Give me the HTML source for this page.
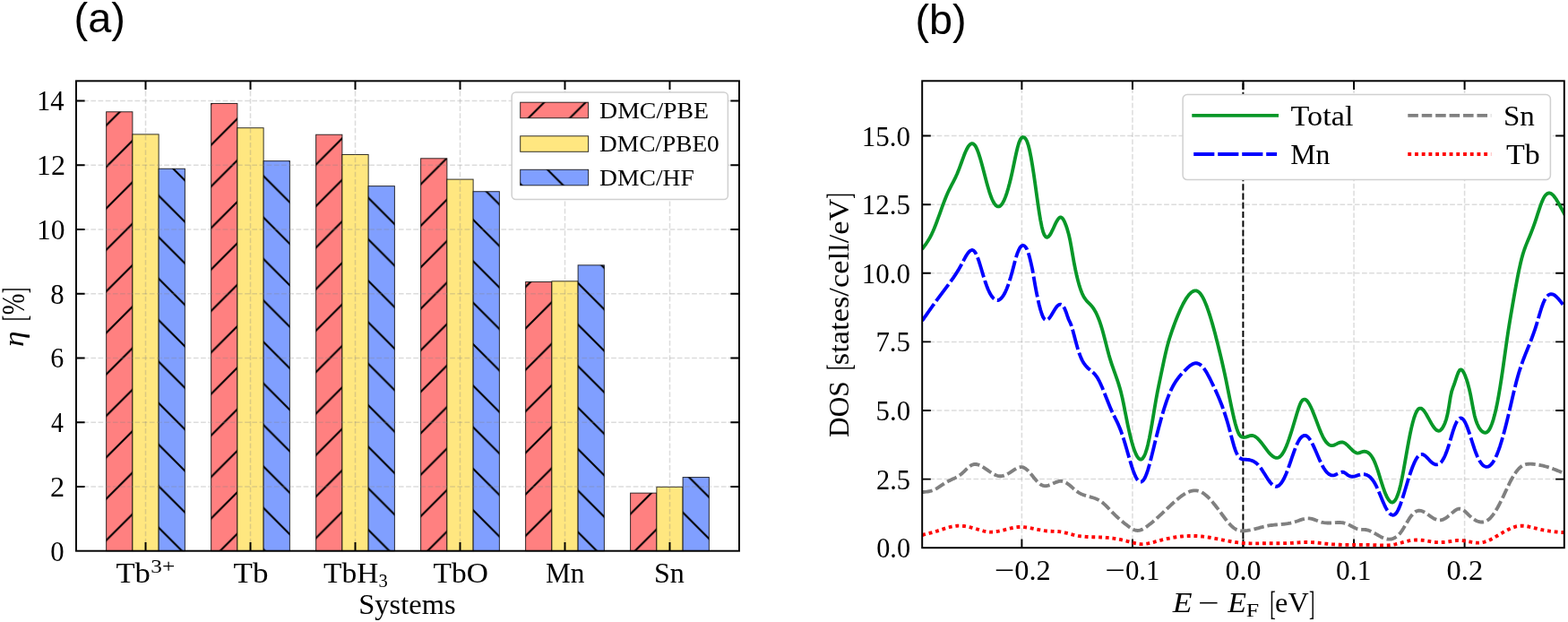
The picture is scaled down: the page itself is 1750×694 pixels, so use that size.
<!DOCTYPE html>
<html lang="en"><head><meta charset="utf-8"><title>Figure</title>
<style>html,body{margin:0;padding:0;background:#fff}svg{display:block}</style></head>
<body>
<svg width="1750" height="694" viewBox="0 0 1750 694">
<rect width="1750" height="694" fill="#ffffff"/>
<defs>
<pattern id="h1" patternUnits="userSpaceOnUse" x="0" y="27" width="46.3" height="46.3">
<path d="M-5 5L5 -5M-5 51.3 L51.3 -5M41.3 51.3 L51.3 41.3" stroke="#000" stroke-width="2.1" fill="none"/>
</pattern>
<pattern id="h2" patternUnits="userSpaceOnUse" x="0" y="41.2" width="46.3" height="46.3">
<path d="M-5 -5L51.3 51.3 M41.3 -5 L51.3 5 M-5 41.3 L5 51.3" stroke="#000" stroke-width="2.1" fill="none"/>
</pattern>
<clipPath id="clipR"><rect x="1029.2" y="90.3" width="716.6" height="520.9"/></clipPath>
</defs>
<g id="panel-a">
<rect x="118.64" y="124.78" width="29.25" height="489.92" fill="#ff8080"/>
<rect x="118.64" y="124.78" width="29.25" height="489.92" fill="url(#h1)"/>
<rect x="118.64" y="124.78" width="29.25" height="489.92" fill="none" stroke="#000" stroke-opacity="0.8" stroke-width="1"/>
<rect x="147.89" y="149.89" width="29.25" height="464.81" fill="#ffe780"/>
<rect x="147.89" y="149.89" width="29.25" height="464.81" fill="none" stroke="#000" stroke-opacity="0.8" stroke-width="1"/>
<rect x="177.13" y="188.26" width="29.25" height="426.44" fill="#809fff"/>
<rect x="177.13" y="188.26" width="29.25" height="426.44" fill="url(#h2)"/>
<rect x="177.13" y="188.26" width="29.25" height="426.44" fill="none" stroke="#000" stroke-opacity="0.8" stroke-width="1"/>
<rect x="235.63" y="115.46" width="29.25" height="499.24" fill="#ff8080"/>
<rect x="235.63" y="115.46" width="29.25" height="499.24" fill="url(#h1)"/>
<rect x="235.63" y="115.46" width="29.25" height="499.24" fill="none" stroke="#000" stroke-opacity="0.8" stroke-width="1"/>
<rect x="264.88" y="142.71" width="29.25" height="471.99" fill="#ffe780"/>
<rect x="264.88" y="142.71" width="29.25" height="471.99" fill="none" stroke="#000" stroke-opacity="0.8" stroke-width="1"/>
<rect x="294.13" y="179.65" width="29.25" height="435.05" fill="#809fff"/>
<rect x="294.13" y="179.65" width="29.25" height="435.05" fill="url(#h2)"/>
<rect x="294.13" y="179.65" width="29.25" height="435.05" fill="none" stroke="#000" stroke-opacity="0.8" stroke-width="1"/>
<rect x="352.63" y="150.24" width="29.25" height="464.46" fill="#ff8080"/>
<rect x="352.63" y="150.24" width="29.25" height="464.46" fill="url(#h1)"/>
<rect x="352.63" y="150.24" width="29.25" height="464.46" fill="none" stroke="#000" stroke-opacity="0.8" stroke-width="1"/>
<rect x="381.88" y="172.48" width="29.25" height="442.22" fill="#ffe780"/>
<rect x="381.88" y="172.48" width="29.25" height="442.22" fill="none" stroke="#000" stroke-opacity="0.8" stroke-width="1"/>
<rect x="411.13" y="207.63" width="29.25" height="407.07" fill="#809fff"/>
<rect x="411.13" y="207.63" width="29.25" height="407.07" fill="url(#h2)"/>
<rect x="411.13" y="207.63" width="29.25" height="407.07" fill="none" stroke="#000" stroke-opacity="0.8" stroke-width="1"/>
<rect x="469.62" y="176.79" width="29.25" height="437.91" fill="#ff8080"/>
<rect x="469.62" y="176.79" width="29.25" height="437.91" fill="url(#h1)"/>
<rect x="469.62" y="176.79" width="29.25" height="437.91" fill="none" stroke="#000" stroke-opacity="0.8" stroke-width="1"/>
<rect x="498.87" y="200.1" width="29.25" height="414.6" fill="#ffe780"/>
<rect x="498.87" y="200.1" width="29.25" height="414.6" fill="none" stroke="#000" stroke-opacity="0.8" stroke-width="1"/>
<rect x="528.12" y="213.73" width="29.25" height="400.97" fill="#809fff"/>
<rect x="528.12" y="213.73" width="29.25" height="400.97" fill="url(#h2)"/>
<rect x="528.12" y="213.73" width="29.25" height="400.97" fill="none" stroke="#000" stroke-opacity="0.8" stroke-width="1"/>
<rect x="586.62" y="314.51" width="29.25" height="300.19" fill="#ff8080"/>
<rect x="586.62" y="314.51" width="29.25" height="300.19" fill="url(#h1)"/>
<rect x="586.62" y="314.51" width="29.25" height="300.19" fill="none" stroke="#000" stroke-opacity="0.8" stroke-width="1"/>
<rect x="615.87" y="313.79" width="29.25" height="300.91" fill="#ffe780"/>
<rect x="615.87" y="313.79" width="29.25" height="300.91" fill="none" stroke="#000" stroke-opacity="0.8" stroke-width="1"/>
<rect x="645.12" y="295.86" width="29.25" height="318.84" fill="#809fff"/>
<rect x="645.12" y="295.86" width="29.25" height="318.84" fill="url(#h2)"/>
<rect x="645.12" y="295.86" width="29.25" height="318.84" fill="none" stroke="#000" stroke-opacity="0.8" stroke-width="1"/>
<rect x="703.62" y="550.14" width="29.25" height="64.56" fill="#ff8080"/>
<rect x="703.62" y="550.14" width="29.25" height="64.56" fill="url(#h1)"/>
<rect x="703.62" y="550.14" width="29.25" height="64.56" fill="none" stroke="#000" stroke-opacity="0.8" stroke-width="1"/>
<rect x="732.87" y="543.33" width="29.25" height="71.37" fill="#ffe780"/>
<rect x="732.87" y="543.33" width="29.25" height="71.37" fill="none" stroke="#000" stroke-opacity="0.8" stroke-width="1"/>
<rect x="762.11" y="532.57" width="29.25" height="82.13" fill="#809fff"/>
<rect x="762.11" y="532.57" width="29.25" height="82.13" fill="url(#h2)"/>
<rect x="762.11" y="532.57" width="29.25" height="82.13" fill="none" stroke="#000" stroke-opacity="0.8" stroke-width="1"/>
<path d="M162.51 614.7 V90.35" stroke="#808080" stroke-opacity="0.28" stroke-width="1.5" stroke-dasharray="5.71 2.47" fill="none"/>
<path d="M279.51 614.7 V90.35" stroke="#808080" stroke-opacity="0.28" stroke-width="1.5" stroke-dasharray="5.71 2.47" fill="none"/>
<path d="M396.5 614.7 V90.35" stroke="#808080" stroke-opacity="0.28" stroke-width="1.5" stroke-dasharray="5.71 2.47" fill="none"/>
<path d="M513.5 614.7 V90.35" stroke="#808080" stroke-opacity="0.28" stroke-width="1.5" stroke-dasharray="5.71 2.47" fill="none"/>
<path d="M630.49 614.7 V90.35" stroke="#808080" stroke-opacity="0.28" stroke-width="1.5" stroke-dasharray="5.71 2.47" fill="none"/>
<path d="M747.49 614.7 V90.35" stroke="#808080" stroke-opacity="0.28" stroke-width="1.5" stroke-dasharray="5.71 2.47" fill="none"/>
<path d="M85 542.97 H825" stroke="#808080" stroke-opacity="0.28" stroke-width="1.5" stroke-dasharray="5.71 2.47" fill="none"/>
<path d="M85 471.24 H825" stroke="#808080" stroke-opacity="0.28" stroke-width="1.5" stroke-dasharray="5.71 2.47" fill="none"/>
<path d="M85 399.51 H825" stroke="#808080" stroke-opacity="0.28" stroke-width="1.5" stroke-dasharray="5.71 2.47" fill="none"/>
<path d="M85 327.78 H825" stroke="#808080" stroke-opacity="0.28" stroke-width="1.5" stroke-dasharray="5.71 2.47" fill="none"/>
<path d="M85 256.05 H825" stroke="#808080" stroke-opacity="0.28" stroke-width="1.5" stroke-dasharray="5.71 2.47" fill="none"/>
<path d="M85 184.32 H825" stroke="#808080" stroke-opacity="0.28" stroke-width="1.5" stroke-dasharray="5.71 2.47" fill="none"/>
<path d="M85 112.59 H825" stroke="#808080" stroke-opacity="0.28" stroke-width="1.5" stroke-dasharray="5.71 2.47" fill="none"/>
<path d="M162.51 614.7v-9.6M162.51 90.35v9.6M279.51 614.7v-9.6M279.51 90.35v9.6M396.5 614.7v-9.6M396.5 90.35v9.6M513.5 614.7v-9.6M513.5 90.35v9.6M630.49 614.7v-9.6M630.49 90.35v9.6M747.49 614.7v-9.6M747.49 90.35v9.6M85 542.97h9.6M825 542.97h-9.6M85 471.24h9.6M825 471.24h-9.6M85 399.51h9.6M825 399.51h-9.6M85 327.78h9.6M825 327.78h-9.6M85 256.05h9.6M825 256.05h-9.6M85 184.32h9.6M825 184.32h-9.6M85 112.59h9.6M825 112.59h-9.6" stroke="#000" stroke-width="1.95" fill="none"/>
<rect x="85" y="90.35" width="740" height="524.35" fill="none" stroke="#000" stroke-width="1.95"/>
<rect x="571.2" y="103" width="241.2" height="119.5" rx="4.5" fill="#fff" stroke="#d0d0d0" stroke-width="1.5"/>
<rect x="580.7" y="114.2" width="75.9" height="17.5" fill="#ff8080"/>
<rect x="580.7" y="114.2" width="75.9" height="17.5" fill="url(#h1)"/>
<rect x="580.7" y="114.2" width="75.9" height="17.5" fill="none" stroke="#000" stroke-opacity="0.8" stroke-width="1"/>
<text x="669.07" y="131.6" font-family="'Liberation Serif', serif" font-size="26" textLength="122.03" lengthAdjust="spacingAndGlyphs">DMC/PBE</text>
<rect x="580.7" y="151.8" width="75.9" height="17.5" fill="#ffe780"/>
<rect x="580.7" y="151.8" width="75.9" height="17.5" fill="none" stroke="#000" stroke-opacity="0.8" stroke-width="1"/>
<text x="669.08" y="169.2" font-family="'Liberation Serif', serif" font-size="26" textLength="133.72" lengthAdjust="spacingAndGlyphs">DMC/PBE0</text>
<rect x="580.7" y="189.3" width="75.9" height="17.5" fill="#809fff"/>
<rect x="580.7" y="189.3" width="75.9" height="17.5" fill="url(#h2)"/>
<rect x="580.7" y="189.3" width="75.9" height="17.5" fill="none" stroke="#000" stroke-opacity="0.8" stroke-width="1"/>
<text x="669.07" y="206.7" font-family="'Liberation Serif', serif" font-size="26" textLength="105.78" lengthAdjust="spacingAndGlyphs">DMC/HF</text>
<text x="56.27" y="625.6" font-family="'Liberation Serif', serif" font-size="32.3" textLength="15.36" lengthAdjust="spacingAndGlyphs">0</text>
<text x="56.05" y="553.87" font-family="'Liberation Serif', serif" font-size="32.3" textLength="16.13" lengthAdjust="spacingAndGlyphs">2</text>
<text x="56.95" y="482.14" font-family="'Liberation Serif', serif" font-size="32.3" textLength="13.87" lengthAdjust="spacingAndGlyphs">4</text>
<text x="56.3" y="410.41" font-family="'Liberation Serif', serif" font-size="32.3" textLength="15" lengthAdjust="spacingAndGlyphs">6</text>
<text x="56.27" y="338.68" font-family="'Liberation Serif', serif" font-size="32.3" textLength="15.36" lengthAdjust="spacingAndGlyphs">8</text>
<text x="40.92" y="266.95" font-family="'Liberation Serif', serif" font-size="32.3" textLength="31.54" lengthAdjust="spacingAndGlyphs">10</text>
<text x="40.87" y="195.22" font-family="'Liberation Serif', serif" font-size="32.3" textLength="32.09" lengthAdjust="spacingAndGlyphs">12</text>
<text x="40.99" y="123.49" font-family="'Liberation Serif', serif" font-size="32.3" textLength="30.67" lengthAdjust="spacingAndGlyphs">14</text>
<text font-family="'Liberation Serif', serif"><tspan x="129.51" y="650.4" font-size="31.2" textLength="38.4" lengthAdjust="spacingAndGlyphs">Tb</tspan><tspan x="168.36" y="639.4" font-size="21.5" textLength="26.87" lengthAdjust="spacingAndGlyphs">3+</tspan></text>
<text x="260.5" y="650.4" font-family="'Liberation Serif', serif" font-size="31.2" textLength="38.93" lengthAdjust="spacingAndGlyphs">Tb</text>
<text font-family="'Liberation Serif', serif"><tspan x="361.13" y="650.4" font-size="31.2" textLength="61.31" lengthAdjust="spacingAndGlyphs">TbH</tspan><tspan x="422.58" y="654.8" font-size="21.5" textLength="10.24" lengthAdjust="spacingAndGlyphs">3</tspan></text>
<text x="483.53" y="650.4" font-family="'Liberation Serif', serif" font-size="31.2" textLength="61.31" lengthAdjust="spacingAndGlyphs">TbO</text>
<text x="608.96" y="650.4" font-family="'Liberation Serif', serif" font-size="31.2" textLength="43.48" lengthAdjust="spacingAndGlyphs">Mn</text>
<text x="729.91" y="650.4" font-family="'Liberation Serif', serif" font-size="31.2" textLength="33.91" lengthAdjust="spacingAndGlyphs">Sn</text>
<text x="400.29" y="684.5" font-family="'Liberation Serif', serif" font-size="31.2" textLength="108.31" lengthAdjust="spacingAndGlyphs">Systems</text>
<text transform="translate(26.3 0) rotate(-90)" font-family="'Liberation Serif', serif"><tspan x="-387.14" y="0" font-size="31.2" font-style="italic" textLength="17.6" lengthAdjust="spacingAndGlyphs">η</tspan> <tspan x="-358.17" y="2.6" font-size="37.5" textLength="6.51" lengthAdjust="spacingAndGlyphs">[</tspan><tspan x="-351.19" y="1.1" font-size="35" textLength="23.63" lengthAdjust="spacingAndGlyphs">%</tspan><tspan x="-327.17" y="2.6" font-size="37.5" textLength="6.36" lengthAdjust="spacingAndGlyphs">]</tspan></text>
<text x="82.59" y="36.4" font-family="'Liberation Sans', sans-serif" font-size="46" textLength="57.34" lengthAdjust="spacingAndGlyphs">(a)</text>
</g>
<g id="panel-b">
<path d="M1140.4 611.2 V90.3" stroke="#808080" stroke-opacity="0.28" stroke-width="1.5" stroke-dasharray="5.71 2.47" fill="none"/>
<path d="M1263.95 611.2 V90.3" stroke="#808080" stroke-opacity="0.28" stroke-width="1.5" stroke-dasharray="5.71 2.47" fill="none"/>
<path d="M1387.5 611.2 V90.3" stroke="#808080" stroke-opacity="0.28" stroke-width="1.5" stroke-dasharray="5.71 2.47" fill="none"/>
<path d="M1511.05 611.2 V90.3" stroke="#808080" stroke-opacity="0.28" stroke-width="1.5" stroke-dasharray="5.71 2.47" fill="none"/>
<path d="M1634.6 611.2 V90.3" stroke="#808080" stroke-opacity="0.28" stroke-width="1.5" stroke-dasharray="5.71 2.47" fill="none"/>
<path d="M1029.2 534.6 H1745.8" stroke="#808080" stroke-opacity="0.28" stroke-width="1.5" stroke-dasharray="5.71 2.47" fill="none"/>
<path d="M1029.2 457.99 H1745.8" stroke="#808080" stroke-opacity="0.28" stroke-width="1.5" stroke-dasharray="5.71 2.47" fill="none"/>
<path d="M1029.2 381.39 H1745.8" stroke="#808080" stroke-opacity="0.28" stroke-width="1.5" stroke-dasharray="5.71 2.47" fill="none"/>
<path d="M1029.2 304.79 H1745.8" stroke="#808080" stroke-opacity="0.28" stroke-width="1.5" stroke-dasharray="5.71 2.47" fill="none"/>
<path d="M1029.2 228.19 H1745.8" stroke="#808080" stroke-opacity="0.28" stroke-width="1.5" stroke-dasharray="5.71 2.47" fill="none"/>
<path d="M1029.2 151.58 H1745.8" stroke="#808080" stroke-opacity="0.28" stroke-width="1.5" stroke-dasharray="5.71 2.47" fill="none"/>
<path d="M1140.4 611.2v-9.6M1140.4 90.3v9.6M1263.95 611.2v-9.6M1263.95 90.3v9.6M1387.5 611.2v-9.6M1387.5 90.3v9.6M1511.05 611.2v-9.6M1511.05 90.3v9.6M1634.6 611.2v-9.6M1634.6 90.3v9.6M1029.2 534.6h9.6M1745.8 534.6h-9.6M1029.2 457.99h9.6M1745.8 457.99h-9.6M1029.2 381.39h9.6M1745.8 381.39h-9.6M1029.2 304.79h9.6M1745.8 304.79h-9.6M1029.2 228.19h9.6M1745.8 228.19h-9.6M1029.2 151.58h9.6M1745.8 151.58h-9.6" stroke="#000" stroke-width="1.95" fill="none"/>
<path d="M1387.4 611.2 V90.3" stroke="#000" stroke-width="1.93" stroke-dasharray="7.14 3.085" fill="none"/>
<g clip-path="url(#clipR)" fill="none" stroke-width="3.86" stroke-linejoin="round">
<path id="c-green" d="M1029.2 278.03 L1030.7 275.97 L1032.2 273.9 L1033.7 271.77 L1035.2 269.52 L1036.7 267.1 L1038.2 264.46 L1039.7 261.55 L1041.2 258.31 L1042.7 254.78 L1044.2 251.01 L1045.7 247.05 L1047.2 242.96 L1048.7 238.79 L1050.2 234.6 L1051.7 230.44 L1053.2 226.37 L1054.7 222.44 L1056.2 218.71 L1057.7 215.23 L1059.2 212.03 L1060.7 209.04 L1062.2 206.17 L1063.7 203.32 L1065.2 200.4 L1066.7 197.32 L1068.2 193.99 L1069.7 190.33 L1071.2 186.36 L1072.7 182.23 L1074.2 178.08 L1075.7 174.06 L1077.2 170.31 L1078.7 166.99 L1080.2 164.22 L1081.7 162.1 L1083.2 160.7 L1084.7 160.11 L1086.2 160.4 L1087.7 161.64 L1089.2 163.9 L1090.7 167.12 L1092.2 171.14 L1093.7 175.82 L1095.2 180.99 L1096.7 186.51 L1098.2 192.24 L1099.7 198 L1101.2 203.66 L1102.7 209.07 L1104.2 214.06 L1105.7 218.5 L1107.2 222.27 L1108.7 225.35 L1110.2 227.73 L1111.7 229.38 L1113.2 230.3 L1114.7 230.45 L1116.2 229.84 L1117.7 228.43 L1119.2 226.24 L1120.7 223.29 L1122.2 219.64 L1123.7 215.31 L1125.2 210.35 L1126.7 204.8 L1128.2 198.7 L1129.7 192.08 L1131.2 185.01 L1132.7 177.75 L1134.2 170.74 L1135.7 164.44 L1137.2 159.29 L1138.7 155.71 L1140.2 153.72 L1141.7 153.01 L1143.2 153.35 L1144.7 154.86 L1146.2 157.72 L1147.7 162.08 L1149.2 168.09 L1150.7 175.59 L1152.2 184.34 L1153.7 194.07 L1155.2 204.54 L1156.7 215.35 L1158.2 226.06 L1159.7 236.21 L1161.2 245.33 L1162.7 252.98 L1164.2 258.71 L1165.7 262.44 L1167.2 264.41 L1168.7 264.87 L1170.2 264.07 L1171.7 262.28 L1173.2 259.73 L1174.7 256.7 L1176.2 253.43 L1177.7 250.17 L1179.2 247.18 L1180.7 244.71 L1182.2 243.03 L1183.7 242.37 L1185.2 242.97 L1186.7 244.82 L1188.2 247.73 L1189.7 251.49 L1191.2 255.93 L1192.7 261.19 L1194.2 267.75 L1195.7 275.85 L1197.2 284.67 L1198.7 293.11 L1200.2 300.74 L1201.7 307.56 L1203.2 313.6 L1204.7 318.91 L1206.2 323.48 L1207.7 327.32 L1209.2 330.44 L1210.7 332.94 L1212.2 334.96 L1213.7 336.65 L1215.2 338.17 L1216.7 339.65 L1218.2 341.25 L1219.7 343.11 L1221.2 345.34 L1222.7 347.96 L1224.2 351.01 L1225.7 354.49 L1227.2 358.43 L1228.7 362.85 L1230.2 367.76 L1231.7 373.18 L1233.2 378.96 L1234.7 384.89 L1236.2 390.76 L1237.7 396.34 L1239.2 401.46 L1240.7 406.11 L1242.2 410.46 L1243.7 414.64 L1245.2 418.79 L1246.7 423.06 L1248.2 427.61 L1249.7 432.57 L1251.2 438.12 L1252.7 444.39 L1254.2 451.55 L1255.7 459.3 L1257.2 466.99 L1258.7 474.29 L1260.2 481.14 L1261.7 487.48 L1263.2 493.25 L1264.7 498.38 L1266.2 502.82 L1267.7 506.5 L1269.2 509.38 L1270.7 511.38 L1272.2 512.45 L1273.7 512.53 L1275.2 511.55 L1276.7 509.47 L1278.2 506.21 L1279.7 501.72 L1281.2 495.96 L1282.7 489.07 L1284.2 481.27 L1285.7 472.8 L1287.2 463.88 L1288.7 454.78 L1290.2 445.99 L1291.7 437.96 L1293.2 430.38 L1294.7 423.05 L1296.2 415.87 L1297.7 408.75 L1299.2 401.7 L1300.7 394.91 L1302.2 388.58 L1303.7 382.87 L1305.2 377.74 L1306.7 373.06 L1308.2 368.69 L1309.7 364.51 L1311.2 360.45 L1312.7 356.53 L1314.2 352.76 L1315.7 349.16 L1317.2 345.75 L1318.7 342.52 L1320.2 339.51 L1321.7 336.72 L1323.2 334.16 L1324.7 331.86 L1326.2 329.82 L1327.7 328.05 L1329.2 326.58 L1330.7 325.45 L1332.2 324.67 L1333.7 324.31 L1335.2 324.39 L1336.7 324.95 L1338.2 326.03 L1339.7 327.65 L1341.2 329.78 L1342.7 332.39 L1344.2 335.45 L1345.7 338.93 L1347.2 342.8 L1348.7 347.03 L1350.2 351.6 L1351.7 356.48 L1353.2 361.62 L1354.7 367.02 L1356.2 372.62 L1357.7 378.42 L1359.2 384.37 L1360.7 390.45 L1362.2 396.65 L1363.7 403 L1365.2 409.56 L1366.7 416.36 L1368.2 423.44 L1369.7 430.8 L1371.2 438.29 L1372.7 445.77 L1374.2 453.11 L1375.7 460.16 L1377.2 466.76 L1378.7 472.74 L1380.2 477.9 L1381.7 482.06 L1383.2 485.04 L1384.7 486.81 L1386.2 487.68 L1387.7 487.97 L1389.2 487.89 L1390.7 487.56 L1392.2 487.08 L1393.7 486.57 L1395.2 486.15 L1396.7 485.93 L1398.2 486.02 L1399.7 486.49 L1401.2 487.32 L1402.7 488.45 L1404.2 489.85 L1405.7 491.46 L1407.2 493.24 L1408.7 495.15 L1410.2 497.14 L1411.7 499.16 L1413.2 501.17 L1414.7 503.11 L1416.2 504.95 L1417.7 506.63 L1419.2 508.1 L1420.7 509.32 L1422.2 510.22 L1423.7 510.78 L1425.2 510.92 L1426.7 510.61 L1428.2 509.8 L1429.7 508.44 L1431.2 506.5 L1432.7 504.04 L1434.2 501.08 L1435.7 497.68 L1437.2 493.88 L1438.7 489.71 L1440.2 485.22 L1441.7 480.47 L1443.2 475.52 L1444.7 470.48 L1446.2 465.43 L1447.7 460.47 L1449.2 455.73 L1450.7 451.54 L1452.2 448.37 L1453.7 446.45 L1455.2 445.59 L1456.7 445.69 L1458.2 446.64 L1459.7 448.34 L1461.2 450.67 L1462.7 453.53 L1464.2 456.81 L1465.7 460.41 L1467.2 464.23 L1468.7 468.19 L1470.2 472.19 L1471.7 476.14 L1473.2 479.95 L1474.7 483.53 L1476.2 486.79 L1477.7 489.64 L1479.2 492.03 L1480.7 493.97 L1482.2 495.45 L1483.7 496.48 L1485.2 497.06 L1486.7 497.19 L1488.2 496.92 L1489.7 496.36 L1491.2 495.63 L1492.7 494.84 L1494.2 494.12 L1495.7 493.57 L1497.2 493.32 L1498.7 493.48 L1500.2 494.05 L1501.7 494.97 L1503.2 496.18 L1504.7 497.59 L1506.2 499.14 L1507.7 500.71 L1509.2 502.21 L1510.7 503.54 L1512.2 504.61 L1513.7 505.32 L1515.2 505.56 L1516.7 505.33 L1518.2 504.82 L1519.7 504.27 L1521.2 503.9 L1522.7 503.76 L1524.2 503.91 L1525.7 504.39 L1527.2 505.24 L1528.7 506.5 L1530.2 508.23 L1531.7 510.46 L1533.2 513.23 L1534.7 516.6 L1536.2 520.56 L1537.7 524.98 L1539.2 529.69 L1540.7 534.53 L1542.2 539.34 L1543.7 543.95 L1545.2 548.19 L1546.7 551.92 L1548.2 555.07 L1549.7 557.57 L1551.2 559.35 L1552.7 560.36 L1554.2 560.52 L1555.7 559.77 L1557.2 558.06 L1558.7 555.34 L1560.2 551.58 L1561.7 546.78 L1563.2 540.9 L1564.7 533.93 L1566.2 526.07 L1567.7 517.68 L1569.2 509.11 L1570.7 500.62 L1572.2 492.39 L1573.7 484.66 L1575.2 477.62 L1576.7 471.46 L1578.2 466.25 L1579.7 462.03 L1581.2 458.83 L1582.7 456.7 L1584.2 455.65 L1585.7 455.56 L1587.2 456.3 L1588.7 457.72 L1590.2 459.68 L1591.7 462.05 L1593.2 464.67 L1594.7 467.42 L1596.2 470.16 L1597.7 472.79 L1599.2 475.22 L1600.7 477.33 L1602.2 479.01 L1603.7 480.18 L1605.2 480.72 L1606.7 480.55 L1608.2 479.6 L1609.7 477.87 L1611.2 475.31 L1612.7 471.91 L1614.2 467.51 L1615.7 461.47 L1617.2 452.99 L1618.7 443.45 L1620.2 436.51 L1621.7 432.15 L1623.2 428.25 L1624.7 423.7 L1626.2 419.1 L1627.7 415.24 L1629.2 412.91 L1630.7 412.39 L1632.2 413.44 L1633.7 415.76 L1635.2 419.07 L1636.7 423.11 L1638.2 427.92 L1639.7 433.64 L1641.2 440.4 L1642.7 448.28 L1644.2 456.46 L1645.7 463.65 L1647.2 469.05 L1648.7 473.04 L1650.2 476.17 L1651.7 478.66 L1653.2 480.54 L1654.7 481.83 L1656.2 482.57 L1657.7 482.78 L1659.2 482.38 L1660.7 481.23 L1662.2 479.24 L1663.7 476.38 L1665.2 472.65 L1666.7 468.06 L1668.2 462.59 L1669.7 456.25 L1671.2 449.04 L1672.7 440.95 L1674.2 432.01 L1675.7 422.39 L1677.2 412.21 L1678.7 401.59 L1680.2 390.82 L1681.7 380.2 L1683.2 370.05 L1684.7 360.59 L1686.2 351.63 L1687.7 342.88 L1689.2 334.18 L1690.7 325.62 L1692.2 317.33 L1693.7 309.4 L1695.2 301.93 L1696.7 295.04 L1698.2 288.82 L1699.7 283.37 L1701.2 278.72 L1702.7 274.64 L1704.2 270.9 L1705.7 267.28 L1707.2 263.65 L1708.7 259.95 L1710.2 256.13 L1711.7 252.12 L1713.2 247.87 L1714.7 243.35 L1716.2 238.69 L1717.7 234.07 L1719.2 229.66 L1720.7 225.63 L1722.2 222.17 L1723.7 219.43 L1725.2 217.42 L1726.7 216.12 L1728.2 215.49 L1729.7 215.48 L1731.2 216.07 L1732.7 217.19 L1734.2 218.76 L1735.7 220.7 L1737.2 222.94 L1738.7 225.41 L1740.2 228.03 L1741.7 230.73 L1743.2 233.48 L1744.7 236.26 L1746.2 239.05 L1747.7 241.82 L1749.2 244.56" stroke="#079728" />
<path id="c-blue" d="M1029.2 357.95 L1030.7 355.81 L1032.2 353.67 L1033.7 351.53 L1035.2 349.38 L1036.7 347.25 L1038.2 345.12 L1039.7 343 L1041.2 340.91 L1042.7 338.83 L1044.2 336.76 L1045.7 334.71 L1047.2 332.67 L1048.7 330.64 L1050.2 328.62 L1051.7 326.6 L1053.2 324.59 L1054.7 322.59 L1056.2 320.58 L1057.7 318.57 L1059.2 316.56 L1060.7 314.52 L1062.2 312.46 L1063.7 310.35 L1065.2 308.18 L1066.7 305.92 L1068.2 303.58 L1069.7 301.13 L1071.2 298.55 L1072.7 295.84 L1074.2 293 L1075.7 290.11 L1077.2 287.31 L1078.7 284.73 L1080.2 282.47 L1081.7 280.68 L1083.2 279.47 L1084.7 278.98 L1086.2 279.31 L1087.7 280.61 L1089.2 282.97 L1090.7 286.3 L1092.2 290.4 L1093.7 295.05 L1095.2 300.02 L1096.7 305.1 L1098.2 310.08 L1099.7 314.74 L1101.2 318.96 L1102.7 322.72 L1104.2 326.01 L1105.7 328.81 L1107.2 331.1 L1108.7 332.87 L1110.2 334.12 L1111.7 334.85 L1113.2 335.06 L1114.7 334.75 L1116.2 333.91 L1117.7 332.55 L1119.2 330.66 L1120.7 328.25 L1122.2 325.33 L1123.7 321.9 L1125.2 317.96 L1126.7 313.52 L1128.2 308.59 L1129.7 303.18 L1131.2 297.44 L1132.7 291.75 L1134.2 286.46 L1135.7 281.94 L1137.2 278.4 L1138.7 275.85 L1140.2 274.3 L1141.7 273.76 L1143.2 274.25 L1144.7 275.76 L1146.2 278.32 L1147.7 282.11 L1149.2 287.33 L1150.7 293.63 L1152.2 300.4 L1153.7 309.11 L1155.2 317.89 L1156.7 325.79 L1158.2 333.09 L1159.7 339.72 L1161.2 345.5 L1162.7 350.28 L1164.2 353.89 L1165.7 356.17 L1167.2 357.14 L1168.7 357.01 L1170.2 355.98 L1171.7 354.26 L1173.2 352.04 L1174.7 349.55 L1176.2 346.97 L1177.7 344.52 L1179.2 342.4 L1180.7 340.8 L1182.2 339.84 L1183.7 339.61 L1185.2 340.21 L1186.7 341.74 L1188.2 344.29 L1189.7 347.95 L1191.2 352.39 L1192.7 356.51 L1194.2 359.57 L1195.7 363.31 L1197.2 368.34 L1198.7 373.85 L1200.2 379.51 L1201.7 385.06 L1203.2 390.24 L1204.7 394.8 L1206.2 398.66 L1207.7 401.88 L1209.2 404.57 L1210.7 406.79 L1212.2 408.65 L1213.7 410.21 L1215.2 411.57 L1216.7 412.81 L1218.2 414.04 L1219.7 415.33 L1221.2 416.8 L1222.7 418.52 L1224.2 420.61 L1225.7 423.1 L1227.2 425.98 L1228.7 429.16 L1230.2 432.6 L1231.7 436.22 L1233.2 439.97 L1234.7 443.78 L1236.2 447.58 L1237.7 451.32 L1239.2 454.93 L1240.7 458.35 L1242.2 461.55 L1243.7 464.6 L1245.2 467.61 L1246.7 470.69 L1248.2 473.93 L1249.7 477.44 L1251.2 481.32 L1252.7 485.61 L1254.2 490.24 L1255.7 495.13 L1257.2 500.21 L1258.7 505.42 L1260.2 510.63 L1261.7 515.73 L1263.2 520.58 L1264.7 525.06 L1266.2 529.04 L1267.7 532.39 L1269.2 534.98 L1270.7 536.73 L1272.2 537.6 L1273.7 537.6 L1275.2 536.71 L1276.7 534.91 L1278.2 532.2 L1279.7 528.57 L1281.2 524.11 L1282.7 518.98 L1284.2 513.34 L1285.7 507.36 L1287.2 501.21 L1288.7 495.05 L1290.2 488.98 L1291.7 483.04 L1293.2 477.25 L1294.7 471.63 L1296.2 466.21 L1297.7 461.01 L1299.2 456.05 L1300.7 451.35 L1302.2 446.95 L1303.7 442.85 L1305.2 439.1 L1306.7 435.68 L1308.2 432.59 L1309.7 429.78 L1311.2 427.23 L1312.7 424.91 L1314.2 422.79 L1315.7 420.84 L1317.2 419.03 L1318.7 417.33 L1320.2 415.71 L1321.7 414.15 L1323.2 412.61 L1324.7 411.11 L1326.2 409.7 L1327.7 408.41 L1329.2 407.29 L1330.7 406.37 L1332.2 405.7 L1333.7 405.3 L1335.2 405.23 L1336.7 405.49 L1338.2 406.08 L1339.7 407.01 L1341.2 408.27 L1342.7 409.86 L1344.2 411.8 L1345.7 414.06 L1347.2 416.58 L1348.7 419.33 L1350.2 422.24 L1351.7 425.25 L1353.2 428.32 L1354.7 431.42 L1356.2 434.58 L1357.7 437.83 L1359.2 441.19 L1360.7 444.71 L1362.2 448.4 L1363.7 452.29 L1365.2 456.4 L1366.7 460.75 L1368.2 465.36 L1369.7 470.24 L1371.2 475.42 L1372.7 480.92 L1374.2 486.64 L1375.7 492.3 L1377.2 497.59 L1378.7 502.21 L1380.2 505.87 L1381.7 508.56 L1383.2 510.42 L1384.7 511.62 L1386.2 512.29 L1387.7 512.6 L1389.2 512.69 L1390.7 512.73 L1392.2 512.82 L1393.7 513.01 L1395.2 513.31 L1396.7 513.74 L1398.2 514.33 L1399.7 515.1 L1401.2 516.08 L1402.7 517.28 L1404.2 518.72 L1405.7 520.44 L1407.2 522.42 L1408.7 524.61 L1410.2 526.93 L1411.7 529.33 L1413.2 531.73 L1414.7 534.06 L1416.2 536.26 L1417.7 538.25 L1419.2 539.97 L1420.7 541.35 L1422.2 542.31 L1423.7 542.8 L1425.2 542.75 L1426.7 542.14 L1428.2 540.99 L1429.7 539.33 L1431.2 537.17 L1432.7 534.54 L1434.2 531.46 L1435.7 527.95 L1437.2 524.05 L1438.7 519.87 L1440.2 515.52 L1441.7 511.11 L1443.2 506.76 L1444.7 502.59 L1446.2 498.7 L1447.7 495.22 L1449.2 492.25 L1450.7 489.83 L1452.2 487.99 L1453.7 486.72 L1455.2 486.03 L1456.7 485.93 L1458.2 486.43 L1459.7 487.53 L1461.2 489.24 L1462.7 491.47 L1464.2 494.13 L1465.7 497.13 L1467.2 500.39 L1468.7 503.82 L1470.2 507.31 L1471.7 510.8 L1473.2 514.17 L1474.7 517.34 L1476.2 520.23 L1477.7 522.77 L1479.2 524.96 L1480.7 526.78 L1482.2 528.24 L1483.7 529.33 L1485.2 530.05 L1486.7 530.4 L1488.2 530.38 L1489.7 530.01 L1491.2 529.38 L1492.7 528.62 L1494.2 527.85 L1495.7 527.2 L1497.2 526.78 L1498.7 526.73 L1500.2 527.15 L1501.7 528.08 L1503.2 529.25 L1504.7 530.37 L1506.2 531.17 L1507.7 531.6 L1509.2 531.72 L1510.7 531.6 L1512.2 531.3 L1513.7 530.88 L1515.2 530.41 L1516.7 529.94 L1518.2 529.53 L1519.7 529.25 L1521.2 529.15 L1522.7 529.23 L1524.2 529.53 L1525.7 530.08 L1527.2 530.89 L1528.7 531.99 L1530.2 533.4 L1531.7 535.16 L1533.2 537.28 L1534.7 539.79 L1536.2 542.7 L1537.7 545.95 L1539.2 549.44 L1540.7 553.05 L1542.2 556.68 L1543.7 560.22 L1545.2 563.57 L1546.7 566.61 L1548.2 569.26 L1549.7 571.45 L1551.2 573.13 L1552.7 574.25 L1554.2 574.74 L1555.7 574.55 L1557.2 573.63 L1558.7 571.91 L1560.2 569.38 L1561.7 566.09 L1563.2 562.2 L1564.7 557.83 L1566.2 553.12 L1567.7 548.19 L1569.2 543.18 L1570.7 538.22 L1572.2 533.41 L1573.7 528.82 L1575.2 524.5 L1576.7 520.52 L1578.2 516.93 L1579.7 513.79 L1581.2 511.16 L1582.7 509.1 L1584.2 507.67 L1585.7 506.92 L1587.2 506.86 L1588.7 507.37 L1590.2 508.33 L1591.7 509.63 L1593.2 511.13 L1594.7 512.74 L1596.2 514.31 L1597.7 515.75 L1599.2 516.93 L1600.7 517.79 L1602.2 518.31 L1603.7 518.43 L1605.2 518.11 L1606.7 517.31 L1608.2 515.98 L1609.7 514.08 L1611.2 511.58 L1612.7 508.48 L1614.2 504.83 L1615.7 500.68 L1617.2 496.06 L1618.7 491.05 L1620.2 485.88 L1621.7 480.94 L1623.2 476.56 L1624.7 472.86 L1626.2 469.92 L1627.7 467.82 L1629.2 466.64 L1630.7 466.43 L1632.2 467.15 L1633.7 468.77 L1635.2 471.22 L1636.7 474.45 L1638.2 478.31 L1639.7 482.63 L1641.2 487.25 L1642.7 492 L1644.2 496.71 L1645.7 501.2 L1647.2 505.32 L1648.7 508.96 L1650.2 512.11 L1651.7 514.78 L1653.2 516.96 L1654.7 518.66 L1656.2 519.88 L1657.7 520.62 L1659.2 520.88 L1660.7 520.66 L1662.2 519.97 L1663.7 518.8 L1665.2 517.16 L1666.7 515.04 L1668.2 512.46 L1669.7 509.4 L1671.2 505.88 L1672.7 501.9 L1674.2 497.51 L1675.7 492.74 L1677.2 487.63 L1678.7 482.2 L1680.2 476.49 L1681.7 470.55 L1683.2 464.4 L1684.7 458.08 L1686.2 451.63 L1687.7 445.12 L1689.2 438.67 L1690.7 432.43 L1692.2 426.51 L1693.7 420.97 L1695.2 415.83 L1696.7 411.07 L1698.2 406.63 L1699.7 402.45 L1701.2 398.47 L1702.7 394.65 L1704.2 390.91 L1705.7 387.22 L1707.2 383.5 L1708.7 379.71 L1710.2 375.79 L1711.7 371.68 L1713.2 367.33 L1714.7 362.68 L1716.2 357.69 L1717.7 352.54 L1719.2 347.48 L1720.7 342.74 L1722.2 338.59 L1723.7 335.18 L1725.2 332.49 L1726.7 330.49 L1728.2 329.12 L1729.7 328.34 L1731.2 328.09 L1732.7 328.32 L1734.2 328.97 L1735.7 329.97 L1737.2 331.27 L1738.7 332.81 L1740.2 334.53 L1741.7 336.38 L1743.2 338.3 L1744.7 340.28 L1746.2 342.26 L1747.7 344.22 L1749.2 346.11" stroke="#0000ff" stroke-dasharray="23.15 3.86"/>
<path id="c-gray" d="M1029.2 549.03 L1030.7 548.95 L1032.2 548.84 L1033.7 548.7 L1035.2 548.51 L1036.7 548.26 L1038.2 547.94 L1039.7 547.53 L1041.2 547.02 L1042.7 546.41 L1044.2 545.68 L1045.7 544.85 L1047.2 543.95 L1048.7 542.98 L1050.2 541.98 L1051.7 540.97 L1053.2 539.97 L1054.7 538.99 L1056.2 538.05 L1057.7 537.19 L1059.2 536.41 L1060.7 535.68 L1062.2 535 L1063.7 534.32 L1065.2 533.63 L1066.7 532.89 L1068.2 532.09 L1069.7 531.2 L1071.2 530.18 L1072.7 529.03 L1074.2 527.72 L1075.7 526.3 L1077.2 524.83 L1078.7 523.37 L1080.2 521.98 L1081.7 520.71 L1083.2 519.62 L1084.7 518.78 L1086.2 518.23 L1087.7 517.97 L1089.2 517.98 L1090.7 518.23 L1092.2 518.67 L1093.7 519.29 L1095.2 520.04 L1096.7 520.9 L1098.2 521.84 L1099.7 522.84 L1101.2 523.88 L1102.7 524.93 L1104.2 525.97 L1105.7 526.98 L1107.2 527.94 L1108.7 528.82 L1110.2 529.61 L1111.7 530.26 L1113.2 530.78 L1114.7 531.12 L1116.2 531.28 L1117.7 531.22 L1119.2 530.97 L1120.7 530.54 L1122.2 529.96 L1123.7 529.25 L1125.2 528.43 L1126.7 527.54 L1128.2 526.59 L1129.7 525.61 L1131.2 524.62 L1132.7 523.67 L1134.2 522.79 L1135.7 522.05 L1137.2 521.49 L1138.7 521.16 L1140.2 521.11 L1141.7 521.38 L1143.2 522.02 L1144.7 522.98 L1146.2 524.21 L1147.7 525.66 L1149.2 527.29 L1150.7 529.03 L1152.2 530.85 L1153.7 532.69 L1155.2 534.49 L1156.7 536.22 L1158.2 537.82 L1159.7 539.23 L1161.2 540.42 L1162.7 541.32 L1164.2 541.9 L1165.7 542.18 L1167.2 542.2 L1168.7 541.99 L1170.2 541.61 L1171.7 541.08 L1173.2 540.46 L1174.7 539.78 L1176.2 539.08 L1177.7 538.41 L1179.2 537.8 L1180.7 537.3 L1182.2 536.95 L1183.7 536.78 L1185.2 536.85 L1186.7 537.17 L1188.2 537.75 L1189.7 538.53 L1191.2 539.49 L1192.7 540.59 L1194.2 541.8 L1195.7 543.07 L1197.2 544.37 L1198.7 545.67 L1200.2 546.92 L1201.7 548.1 L1203.2 549.17 L1204.7 550.09 L1206.2 550.89 L1207.7 551.58 L1209.2 552.18 L1210.7 552.71 L1212.2 553.17 L1213.7 553.6 L1215.2 554 L1216.7 554.4 L1218.2 554.81 L1219.7 555.25 L1221.2 555.73 L1222.7 556.28 L1224.2 556.91 L1225.7 557.63 L1227.2 558.47 L1228.7 559.45 L1230.2 560.57 L1231.7 561.82 L1233.2 563.19 L1234.7 564.64 L1236.2 566.16 L1237.7 567.72 L1239.2 569.3 L1240.7 570.88 L1242.2 572.43 L1243.7 573.93 L1245.2 575.37 L1246.7 576.77 L1248.2 578.12 L1249.7 579.43 L1251.2 580.71 L1252.7 581.95 L1254.2 583.18 L1255.7 584.39 L1257.2 585.59 L1258.7 586.77 L1260.2 587.9 L1261.7 588.95 L1263.2 589.89 L1264.7 590.7 L1266.2 591.33 L1267.7 591.76 L1269.2 591.96 L1270.7 591.91 L1272.2 591.62 L1273.7 591.12 L1275.2 590.44 L1276.7 589.61 L1278.2 588.65 L1279.7 587.61 L1281.2 586.49 L1282.7 585.34 L1284.2 584.14 L1285.7 582.91 L1287.2 581.65 L1288.7 580.35 L1290.2 579.03 L1291.7 577.69 L1293.2 576.33 L1294.7 574.95 L1296.2 573.55 L1297.7 572.15 L1299.2 570.74 L1300.7 569.32 L1302.2 567.9 L1303.7 566.48 L1305.2 565.07 L1306.7 563.67 L1308.2 562.28 L1309.7 560.9 L1311.2 559.55 L1312.7 558.23 L1314.2 556.95 L1315.7 555.72 L1317.2 554.54 L1318.7 553.42 L1320.2 552.37 L1321.7 551.41 L1323.2 550.52 L1324.7 549.73 L1326.2 549.04 L1327.7 548.46 L1329.2 547.99 L1330.7 547.64 L1332.2 547.43 L1333.7 547.35 L1335.2 547.42 L1336.7 547.65 L1338.2 548.03 L1339.7 548.58 L1341.2 549.31 L1342.7 550.2 L1344.2 551.24 L1345.7 552.43 L1347.2 553.75 L1348.7 555.19 L1350.2 556.73 L1351.7 558.38 L1353.2 560.11 L1354.7 561.92 L1356.2 563.79 L1357.7 565.72 L1359.2 567.68 L1360.7 569.68 L1362.2 571.7 L1363.7 573.73 L1365.2 575.75 L1366.7 577.75 L1368.2 579.71 L1369.7 581.59 L1371.2 583.39 L1372.7 585.07 L1374.2 586.62 L1375.7 588.01 L1377.2 589.23 L1378.7 590.24 L1380.2 591.03 L1381.7 591.61 L1383.2 592.01 L1384.7 592.26 L1386.2 592.37 L1387.7 592.37 L1389.2 592.28 L1390.7 592.12 L1392.2 591.92 L1393.7 591.68 L1395.2 591.41 L1396.7 591.1 L1398.2 590.77 L1399.7 590.41 L1401.2 590.04 L1402.7 589.66 L1404.2 589.27 L1405.7 588.88 L1407.2 588.49 L1408.7 588.1 L1410.2 587.73 L1411.7 587.38 L1413.2 587.04 L1414.7 586.73 L1416.2 586.45 L1417.7 586.2 L1419.2 585.99 L1420.7 585.81 L1422.2 585.65 L1423.7 585.5 L1425.2 585.38 L1426.7 585.26 L1428.2 585.14 L1429.7 585.02 L1431.2 584.89 L1432.7 584.75 L1434.2 584.59 L1435.7 584.41 L1437.2 584.2 L1438.7 583.95 L1440.2 583.67 L1441.7 583.34 L1443.2 582.96 L1444.7 582.53 L1446.2 582.04 L1447.7 581.52 L1449.2 580.97 L1450.7 580.43 L1452.2 579.91 L1453.7 579.43 L1455.2 579.02 L1456.7 578.69 L1458.2 578.47 L1459.7 578.37 L1461.2 578.43 L1462.7 578.64 L1464.2 578.97 L1465.7 579.41 L1467.2 579.92 L1468.7 580.47 L1470.2 581.04 L1471.7 581.6 L1473.2 582.11 L1474.7 582.55 L1476.2 582.9 L1477.7 583.16 L1479.2 583.34 L1480.7 583.45 L1482.2 583.5 L1483.7 583.5 L1485.2 583.46 L1486.7 583.39 L1488.2 583.3 L1489.7 583.2 L1491.2 583.11 L1492.7 583.03 L1494.2 582.99 L1495.7 583 L1497.2 583.08 L1498.7 583.25 L1500.2 583.53 L1501.7 583.93 L1503.2 584.47 L1504.7 585.14 L1506.2 585.9 L1507.7 586.71 L1509.2 587.54 L1510.7 588.34 L1512.2 589.09 L1513.7 589.74 L1515.2 590.25 L1516.7 590.59 L1518.2 590.76 L1519.7 590.81 L1521.2 590.83 L1522.7 590.87 L1524.2 591 L1525.7 591.28 L1527.2 591.71 L1528.7 592.25 L1530.2 592.9 L1531.7 593.64 L1533.2 594.43 L1534.7 595.28 L1536.2 596.14 L1537.7 597.01 L1539.2 597.86 L1540.7 598.68 L1542.2 599.44 L1543.7 600.12 L1545.2 600.71 L1546.7 601.18 L1548.2 601.51 L1549.7 601.69 L1551.2 601.69 L1552.7 601.51 L1554.2 601.13 L1555.7 600.55 L1557.2 599.74 L1558.7 598.71 L1560.2 597.44 L1561.7 595.93 L1563.2 594.15 L1564.7 592.11 L1566.2 589.81 L1567.7 587.33 L1569.2 584.75 L1570.7 582.18 L1572.2 579.7 L1573.7 577.4 L1575.2 575.37 L1576.7 573.63 L1578.2 572.2 L1579.7 571.07 L1581.2 570.27 L1582.7 569.79 L1584.2 569.65 L1585.7 569.82 L1587.2 570.25 L1588.7 570.9 L1590.2 571.72 L1591.7 572.67 L1593.2 573.71 L1594.7 574.79 L1596.2 575.87 L1597.7 576.9 L1599.2 577.85 L1600.7 578.7 L1602.2 579.41 L1603.7 579.96 L1605.2 580.32 L1606.7 580.45 L1608.2 580.33 L1609.7 579.96 L1611.2 579.35 L1612.7 578.55 L1614.2 577.58 L1615.7 576.47 L1617.2 575.26 L1618.7 573.99 L1620.2 572.67 L1621.7 571.38 L1623.2 570.17 L1624.7 569.11 L1626.2 568.28 L1627.7 567.75 L1629.2 567.59 L1630.7 567.85 L1632.2 568.52 L1633.7 569.5 L1635.2 570.73 L1636.7 572.12 L1638.2 573.59 L1639.7 575.05 L1641.2 576.44 L1642.7 577.71 L1644.2 578.86 L1645.7 579.87 L1647.2 580.74 L1648.7 581.45 L1650.2 581.99 L1651.7 582.36 L1653.2 582.53 L1654.7 582.51 L1656.2 582.27 L1657.7 581.81 L1659.2 581.12 L1660.7 580.19 L1662.2 579 L1663.7 577.55 L1665.2 575.83 L1666.7 573.87 L1668.2 571.69 L1669.7 569.3 L1671.2 566.73 L1672.7 564 L1674.2 561.13 L1675.7 558.15 L1677.2 555.06 L1678.7 551.89 L1680.2 548.68 L1681.7 545.46 L1683.2 542.28 L1684.7 539.19 L1686.2 536.22 L1687.7 533.43 L1689.2 530.85 L1690.7 528.48 L1692.2 526.34 L1693.7 524.44 L1695.2 522.79 L1696.7 521.4 L1698.2 520.27 L1699.7 519.37 L1701.2 518.7 L1702.7 518.21 L1704.2 517.89 L1705.7 517.71 L1707.2 517.65 L1708.7 517.67 L1710.2 517.76 L1711.7 517.9 L1713.2 518.07 L1714.7 518.27 L1716.2 518.5 L1717.7 518.76 L1719.2 519.06 L1720.7 519.38 L1722.2 519.73 L1723.7 520.11 L1725.2 520.51 L1726.7 520.94 L1728.2 521.4 L1729.7 521.88 L1731.2 522.38 L1732.7 522.91 L1734.2 523.45 L1735.7 524.02 L1737.2 524.61 L1738.7 525.21 L1740.2 525.83 L1741.7 526.47 L1743.2 527.13 L1744.7 527.8 L1746.2 528.49 L1747.7 529.18 L1749.2 529.9" stroke="#808080" stroke-dasharray="11.57 3.86"/>
<path id="c-red" d="M1029.2 597.04 L1030.7 596.62 L1032.2 596.22 L1033.7 595.83 L1035.2 595.44 L1036.7 595.05 L1038.2 594.67 L1039.7 594.27 L1041.2 593.87 L1042.7 593.44 L1044.2 593 L1045.7 592.54 L1047.2 592.05 L1048.7 591.56 L1050.2 591.06 L1051.7 590.56 L1053.2 590.06 L1054.7 589.58 L1056.2 589.11 L1057.7 588.67 L1059.2 588.26 L1060.7 587.88 L1062.2 587.55 L1063.7 587.26 L1065.2 587.02 L1066.7 586.85 L1068.2 586.73 L1069.7 586.68 L1071.2 586.68 L1072.7 586.74 L1074.2 586.85 L1075.7 587.01 L1077.2 587.21 L1078.7 587.45 L1080.2 587.73 L1081.7 588.05 L1083.2 588.4 L1084.7 588.77 L1086.2 589.17 L1087.7 589.6 L1089.2 590.04 L1090.7 590.5 L1092.2 590.96 L1093.7 591.41 L1095.2 591.85 L1096.7 592.26 L1098.2 592.64 L1099.7 592.97 L1101.2 593.24 L1102.7 593.45 L1104.2 593.58 L1105.7 593.62 L1107.2 593.59 L1108.7 593.5 L1110.2 593.35 L1111.7 593.15 L1113.2 592.9 L1114.7 592.63 L1116.2 592.32 L1117.7 591.99 L1119.2 591.63 L1120.7 591.26 L1122.2 590.88 L1123.7 590.5 L1125.2 590.11 L1126.7 589.73 L1128.2 589.36 L1129.7 589.01 L1131.2 588.7 L1132.7 588.43 L1134.2 588.21 L1135.7 588.05 L1137.2 587.97 L1138.7 587.94 L1140.2 587.97 L1141.7 588.04 L1143.2 588.17 L1144.7 588.33 L1146.2 588.53 L1147.7 588.76 L1149.2 589.01 L1150.7 589.29 L1152.2 589.58 L1153.7 589.89 L1155.2 590.2 L1156.7 590.51 L1158.2 590.82 L1159.7 591.12 L1161.2 591.41 L1162.7 591.68 L1164.2 591.93 L1165.7 592.16 L1167.2 592.36 L1168.7 592.53 L1170.2 592.66 L1171.7 592.75 L1173.2 592.8 L1174.7 592.82 L1176.2 592.83 L1177.7 592.85 L1179.2 592.91 L1180.7 593.01 L1182.2 593.17 L1183.7 593.38 L1185.2 593.64 L1186.7 593.94 L1188.2 594.26 L1189.7 594.62 L1191.2 594.99 L1192.7 595.37 L1194.2 595.76 L1195.7 596.15 L1197.2 596.53 L1198.7 596.9 L1200.2 597.25 L1201.7 597.56 L1203.2 597.85 L1204.7 598.09 L1206.2 598.31 L1207.7 598.49 L1209.2 598.65 L1210.7 598.78 L1212.2 598.89 L1213.7 598.97 L1215.2 599.05 L1216.7 599.11 L1218.2 599.16 L1219.7 599.2 L1221.2 599.24 L1222.7 599.27 L1224.2 599.31 L1225.7 599.35 L1227.2 599.4 L1228.7 599.46 L1230.2 599.53 L1231.7 599.61 L1233.2 599.7 L1234.7 599.81 L1236.2 599.94 L1237.7 600.08 L1239.2 600.24 L1240.7 600.41 L1242.2 600.61 L1243.7 600.82 L1245.2 601.05 L1246.7 601.31 L1248.2 601.58 L1249.7 601.88 L1251.2 602.2 L1252.7 602.54 L1254.2 602.89 L1255.7 603.26 L1257.2 603.64 L1258.7 604.02 L1260.2 604.42 L1261.7 604.81 L1263.2 605.21 L1264.7 605.61 L1266.2 605.99 L1267.7 606.34 L1269.2 606.65 L1270.7 606.88 L1272.2 607.03 L1273.7 607.09 L1275.2 607.08 L1276.7 607 L1278.2 606.85 L1279.7 606.65 L1281.2 606.39 L1282.7 606.09 L1284.2 605.76 L1285.7 605.39 L1287.2 605.01 L1288.7 604.6 L1290.2 604.19 L1291.7 603.77 L1293.2 603.36 L1294.7 602.96 L1296.2 602.57 L1297.7 602.2 L1299.2 601.84 L1300.7 601.49 L1302.2 601.16 L1303.7 600.84 L1305.2 600.53 L1306.7 600.25 L1308.2 599.97 L1309.7 599.71 L1311.2 599.47 L1312.7 599.25 L1314.2 599.04 L1315.7 598.85 L1317.2 598.67 L1318.7 598.52 L1320.2 598.38 L1321.7 598.26 L1323.2 598.16 L1324.7 598.07 L1326.2 598.01 L1327.7 597.96 L1329.2 597.94 L1330.7 597.93 L1332.2 597.95 L1333.7 597.99 L1335.2 598.04 L1336.7 598.12 L1338.2 598.22 L1339.7 598.34 L1341.2 598.49 L1342.7 598.65 L1344.2 598.83 L1345.7 599.03 L1347.2 599.25 L1348.7 599.48 L1350.2 599.72 L1351.7 599.98 L1353.2 600.24 L1354.7 600.52 L1356.2 600.8 L1357.7 601.08 L1359.2 601.38 L1360.7 601.67 L1362.2 601.97 L1363.7 602.27 L1365.2 602.57 L1366.7 602.86 L1368.2 603.15 L1369.7 603.44 L1371.2 603.72 L1372.7 603.99 L1374.2 604.25 L1375.7 604.5 L1377.2 604.74 L1378.7 604.97 L1380.2 605.18 L1381.7 605.38 L1383.2 605.55 L1384.7 605.71 L1386.2 605.85 L1387.7 605.97 L1389.2 606.07 L1390.7 606.15 L1392.2 606.22 L1393.7 606.28 L1395.2 606.32 L1396.7 606.35 L1398.2 606.37 L1399.7 606.38 L1401.2 606.38 L1402.7 606.37 L1404.2 606.36 L1405.7 606.35 L1407.2 606.33 L1408.7 606.31 L1410.2 606.28 L1411.7 606.26 L1413.2 606.24 L1414.7 606.23 L1416.2 606.21 L1417.7 606.21 L1419.2 606.2 L1420.7 606.2 L1422.2 606.2 L1423.7 606.21 L1425.2 606.21 L1426.7 606.21 L1428.2 606.21 L1429.7 606.2 L1431.2 606.19 L1432.7 606.17 L1434.2 606.14 L1435.7 606.11 L1437.2 606.06 L1438.7 606 L1440.2 605.94 L1441.7 605.86 L1443.2 605.77 L1444.7 605.67 L1446.2 605.58 L1447.7 605.48 L1449.2 605.38 L1450.7 605.29 L1452.2 605.21 L1453.7 605.14 L1455.2 605.08 L1456.7 605.03 L1458.2 605 L1459.7 605 L1461.2 605.01 L1462.7 605.05 L1464.2 605.12 L1465.7 605.21 L1467.2 605.32 L1468.7 605.45 L1470.2 605.59 L1471.7 605.75 L1473.2 605.91 L1474.7 606.08 L1476.2 606.26 L1477.7 606.43 L1479.2 606.6 L1480.7 606.77 L1482.2 606.93 L1483.7 607.08 L1485.2 607.22 L1486.7 607.34 L1488.2 607.44 L1489.7 607.54 L1491.2 607.62 L1492.7 607.68 L1494.2 607.74 L1495.7 607.79 L1497.2 607.82 L1498.7 607.85 L1500.2 607.87 L1501.7 607.88 L1503.2 607.89 L1504.7 607.89 L1506.2 607.89 L1507.7 607.89 L1509.2 607.88 L1510.7 607.87 L1512.2 607.86 L1513.7 607.85 L1515.2 607.84 L1516.7 607.83 L1518.2 607.82 L1519.7 607.82 L1521.2 607.82 L1522.7 607.83 L1524.2 607.85 L1525.7 607.87 L1527.2 607.9 L1528.7 607.94 L1530.2 607.99 L1531.7 608.04 L1533.2 608.11 L1534.7 608.19 L1536.2 608.26 L1537.7 608.33 L1539.2 608.4 L1540.7 608.46 L1542.2 608.5 L1543.7 608.53 L1545.2 608.53 L1546.7 608.5 L1548.2 608.45 L1549.7 608.36 L1551.2 608.23 L1552.7 608.07 L1554.2 607.85 L1555.7 607.59 L1557.2 607.28 L1558.7 606.93 L1560.2 606.56 L1561.7 606.17 L1563.2 605.76 L1564.7 605.35 L1566.2 604.94 L1567.7 604.53 L1569.2 604.15 L1570.7 603.78 L1572.2 603.45 L1573.7 603.15 L1575.2 602.9 L1576.7 602.7 L1578.2 602.56 L1579.7 602.48 L1581.2 602.44 L1582.7 602.46 L1584.2 602.53 L1585.7 602.63 L1587.2 602.77 L1588.7 602.95 L1590.2 603.16 L1591.7 603.4 L1593.2 603.66 L1594.7 603.93 L1596.2 604.2 L1597.7 604.46 L1599.2 604.68 L1600.7 604.87 L1602.2 605 L1603.7 605.09 L1605.2 605.14 L1606.7 605.15 L1608.2 605.12 L1609.7 605.05 L1611.2 604.95 L1612.7 604.82 L1614.2 604.66 L1615.7 604.47 L1617.2 604.26 L1618.7 604.03 L1620.2 603.78 L1621.7 603.54 L1623.2 603.32 L1624.7 603.14 L1626.2 603 L1627.7 602.93 L1629.2 602.94 L1630.7 603.02 L1632.2 603.16 L1633.7 603.36 L1635.2 603.59 L1636.7 603.86 L1638.2 604.14 L1639.7 604.42 L1641.2 604.7 L1642.7 604.97 L1644.2 605.21 L1645.7 605.41 L1647.2 605.56 L1648.7 605.65 L1650.2 605.67 L1651.7 605.6 L1653.2 605.45 L1654.7 605.19 L1656.2 604.84 L1657.7 604.4 L1659.2 603.88 L1660.7 603.29 L1662.2 602.64 L1663.7 601.92 L1665.2 601.16 L1666.7 600.36 L1668.2 599.53 L1669.7 598.66 L1671.2 597.78 L1672.7 596.89 L1674.2 595.99 L1675.7 595.09 L1677.2 594.21 L1678.7 593.34 L1680.2 592.49 L1681.7 591.68 L1683.2 590.9 L1684.7 590.17 L1686.2 589.49 L1687.7 588.87 L1689.2 588.31 L1690.7 587.82 L1692.2 587.41 L1693.7 587.09 L1695.2 586.86 L1696.7 586.73 L1698.2 586.68 L1699.7 586.72 L1701.2 586.82 L1702.7 586.99 L1704.2 587.21 L1705.7 587.49 L1707.2 587.8 L1708.7 588.15 L1710.2 588.52 L1711.7 588.9 L1713.2 589.3 L1714.7 589.69 L1716.2 590.08 L1717.7 590.45 L1719.2 590.8 L1720.7 591.13 L1722.2 591.43 L1723.7 591.72 L1725.2 591.98 L1726.7 592.22 L1728.2 592.45 L1729.7 592.66 L1731.2 592.85 L1732.7 593.03 L1734.2 593.19 L1735.7 593.35 L1737.2 593.49 L1738.7 593.62 L1740.2 593.74 L1741.7 593.85 L1743.2 593.95 L1744.7 594.05 L1746.2 594.14 L1747.7 594.23 L1749.2 594.32" stroke="#ff0000" stroke-dasharray="3.86 3.86"/>
</g>
<rect x="1029.2" y="90.3" width="716.6" height="520.9" fill="none" stroke="#000" stroke-width="1.95"/>
<rect x="1320.1" y="105.6" width="410.3" height="95" rx="5" fill="#fff" stroke="#d0d0d0" stroke-width="1.5"/>
<path d="M1332.2 128.9H1425.1" stroke="#079728" stroke-width="3.86" stroke-linecap="square"/>
<path d="M1332.2 172H1425.1" stroke="#0000ff" stroke-width="3.86" stroke-dasharray="23.15 3.86"/>
<path d="M1571.3 128.9H1664.2" stroke="#808080" stroke-width="3.86" stroke-dasharray="11.57 3.86"/>
<path d="M1571.3 172H1664.2" stroke="#ff0000" stroke-width="3.86" stroke-dasharray="3.86 3.86"/>
<text x="1440.62" y="139.8" font-family="'Liberation Serif', serif" font-size="31.2" textLength="69.81" lengthAdjust="spacingAndGlyphs">Total</text>
<text x="1440.35" y="183" font-family="'Liberation Serif', serif" font-size="31.2" textLength="44.1" lengthAdjust="spacingAndGlyphs">Mn</text>
<text x="1677.95" y="139.8" font-family="'Liberation Serif', serif" font-size="31.2" textLength="34.88" lengthAdjust="spacingAndGlyphs">Sn</text>
<text x="1680.92" y="183" font-family="'Liberation Serif', serif" font-size="31.2" textLength="37.77" lengthAdjust="spacingAndGlyphs">Tb</text>
<text x="978.19" y="622.2" font-family="'Liberation Serif', serif" font-size="32.3" textLength="37.82" lengthAdjust="spacingAndGlyphs">0.0</text>
<text x="978.03" y="545.6" font-family="'Liberation Serif', serif" font-size="32.3" textLength="37.98" lengthAdjust="spacingAndGlyphs">2.5</text>
<text x="977.55" y="468.99" font-family="'Liberation Serif', serif" font-size="32.3" textLength="38.48" lengthAdjust="spacingAndGlyphs">5.0</text>
<text x="977.39" y="392.39" font-family="'Liberation Serif', serif" font-size="32.3" textLength="38.65" lengthAdjust="spacingAndGlyphs">7.5</text>
<text x="961.76" y="315.79" font-family="'Liberation Serif', serif" font-size="32.3" textLength="54.28" lengthAdjust="spacingAndGlyphs">10.0</text>
<text x="961.76" y="239.19" font-family="'Liberation Serif', serif" font-size="32.3" textLength="54.28" lengthAdjust="spacingAndGlyphs">12.5</text>
<text x="961.76" y="162.58" font-family="'Liberation Serif', serif" font-size="32.3" textLength="54.28" lengthAdjust="spacingAndGlyphs">15.0</text>
<text font-family="'Liberation Serif', serif"><tspan x="1109.4" y="646.6" font-size="32.3" textLength="22.56" lengthAdjust="spacingAndGlyphs">−</tspan><tspan x="1132.3" y="646.6" font-size="32.3" textLength="40.48" lengthAdjust="spacingAndGlyphs">0.2</tspan></text>
<text font-family="'Liberation Serif', serif"><tspan x="1232.95" y="646.6" font-size="32.3" textLength="22.56" lengthAdjust="spacingAndGlyphs">−</tspan><tspan x="1255.91" y="646.6" font-size="32.3" textLength="38.59" lengthAdjust="spacingAndGlyphs">0.1</tspan></text>
<text x="1367.52" y="646.6" font-family="'Liberation Serif', serif" font-size="32.3" textLength="39.96" lengthAdjust="spacingAndGlyphs">0.0</text>
<text x="1491.1" y="646.6" font-family="'Liberation Serif', serif" font-size="32.3" textLength="39.24" lengthAdjust="spacingAndGlyphs">0.1</text>
<text x="1614.61" y="646.6" font-family="'Liberation Serif', serif" font-size="32.3" textLength="40.48" lengthAdjust="spacingAndGlyphs">0.2</text>
<text font-family="'Liberation Serif', serif"><tspan x="1308.76" y="683.1" font-size="31.2" font-style="italic" textLength="21.81" lengthAdjust="spacingAndGlyphs">E</tspan> <tspan x="1337" y="683.1" font-size="31.2" textLength="23.65" lengthAdjust="spacingAndGlyphs">−</tspan> <tspan x="1370.34" y="683.1" font-size="31.2" font-style="italic" textLength="20.8" lengthAdjust="spacingAndGlyphs">E</tspan><tspan x="1390.82" y="687.7" font-size="21.5" textLength="14.42" lengthAdjust="spacingAndGlyphs">F</tspan> <tspan x="1417.13" y="685.7" font-size="37.5" textLength="6.51" lengthAdjust="spacingAndGlyphs">[</tspan><tspan x="1423.11" y="683.1" font-size="31.2" textLength="37.54" lengthAdjust="spacingAndGlyphs">eV</tspan><tspan x="1460.93" y="685.7" font-size="37.5" textLength="6.36" lengthAdjust="spacingAndGlyphs">]</tspan></text>
<text transform="translate(946.6 0) rotate(-90)" font-family="'Liberation Serif', serif"><tspan x="-487.94" y="0" font-size="31.2" textLength="62.63" lengthAdjust="spacingAndGlyphs">DOS</tspan> <tspan x="-412.97" y="2.7" font-size="37.5" textLength="6.51" lengthAdjust="spacingAndGlyphs">[</tspan><tspan x="-407.18" y="0" font-size="31.2" textLength="185.57" lengthAdjust="spacingAndGlyphs">states/cell/eV</tspan><tspan x="-221.77" y="2.7" font-size="37.5" textLength="6.36" lengthAdjust="spacingAndGlyphs">]</tspan></text>
<text x="1021.5" y="38" font-family="'Liberation Sans', sans-serif" font-size="46" textLength="57.11" lengthAdjust="spacingAndGlyphs">(b)</text>
</g>
</svg>
</body></html>
